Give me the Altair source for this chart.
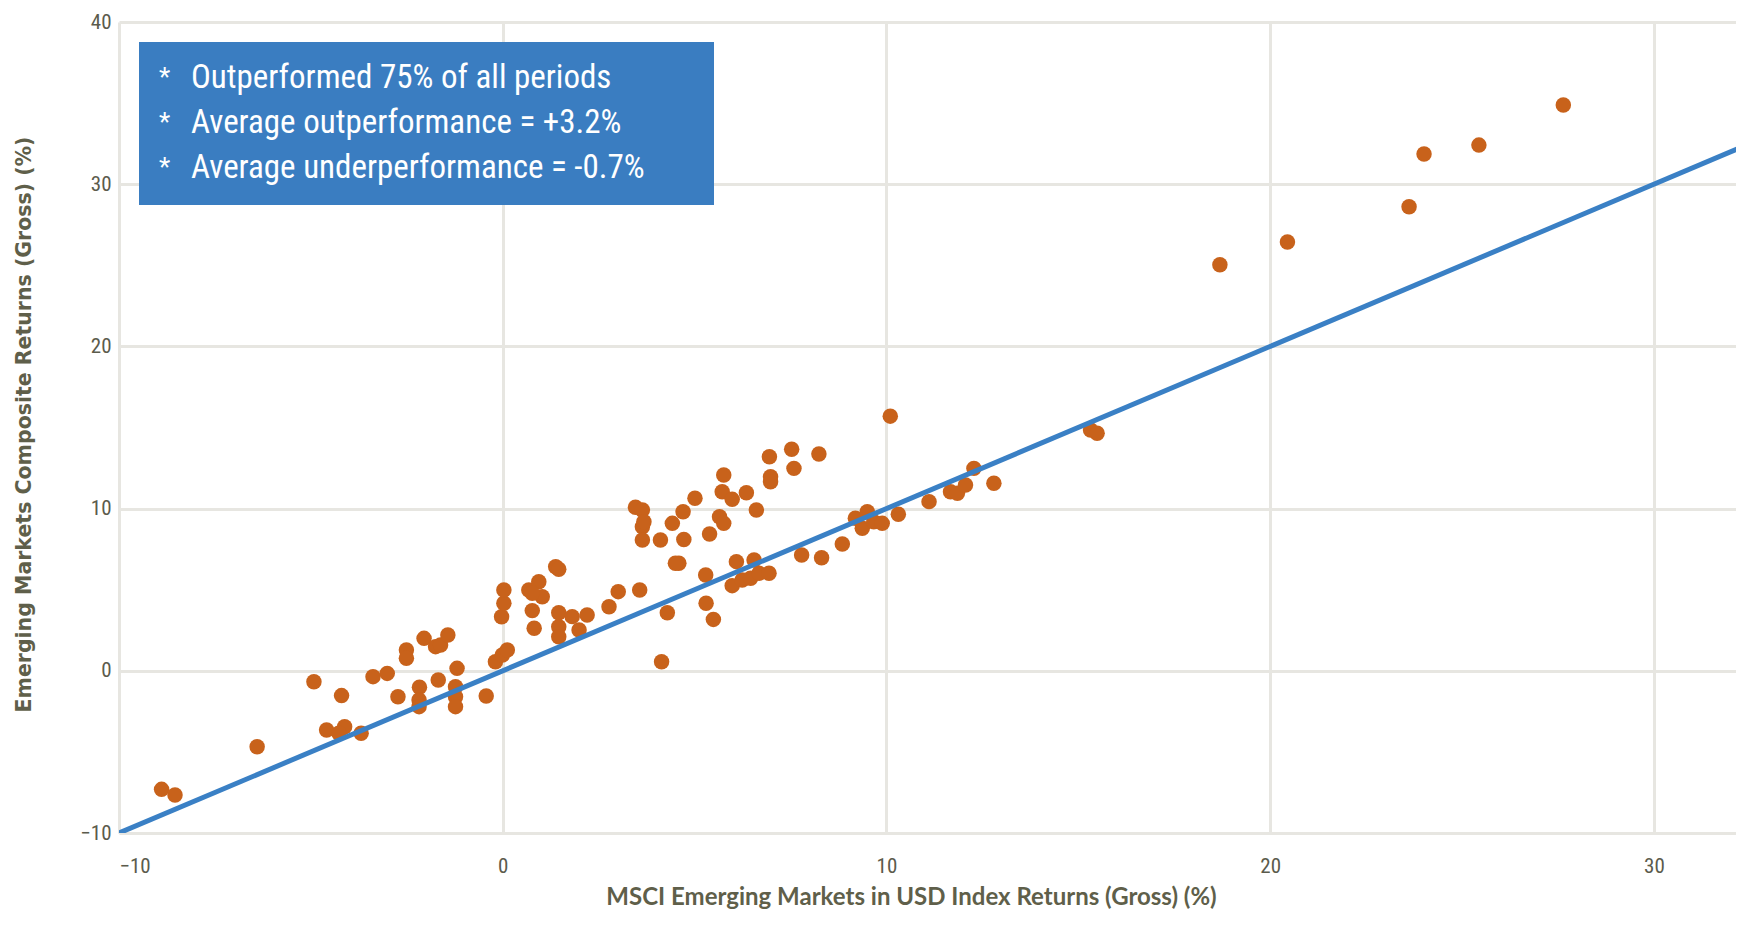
import altair as alt
import pandas as pd

# MSCI EM index return (x) vs composite return (y), in %
emx = [-8.89, -8.54, -6.40, -4.92, -4.20, -4.59, -4.12, -4.27, -3.69, -3.38,
       -3.01, -2.73, -2.51, -2.51, -2.05, -1.75, -1.62, -1.43, -2.17, -2.18,
       -2.18, -1.68, -1.19, -1.23, -1.23, -1.23, -0.43, -0.19, -0.01, 0.12,
       -0.03, 0.03, 0.03,
       0.68, 0.94, 1.03, 0.77, 0.77, 0.82, 1.38, 1.46, 1.46, 1.46,
       1.46, 1.81, 1.99, 2.20, 2.77, 3.01, 3.57, 4.29, 4.14, 5.29,
       5.30, 5.49, 4.59, 4.50, 3.46, 3.64, 3.64, 3.68, 3.64, 4.11,
       4.42, 4.72, 4.70, 5.01, 5.39, 5.65, 5.76, 5.76, 5.72, 5.98,
       6.35, 6.61, 6.95, 6.98, 6.98, 7.53, 7.59, 8.24, 6.09, 6.55,
       5.98, 6.24, 6.46, 6.68, 6.94, 7.79, 8.31, 8.85,
       9.19, 9.50, 9.37, 9.67, 9.89, 10.31, 11.11, 11.67, 11.85, 12.06,
       12.28, 12.80, 10.10, 15.32, 15.49, 18.69, 20.45, 23.62, 24.01, 25.44,
       27.64]
emy = [-7.31, -7.66, -4.68, -0.67, -1.53, -3.65, -3.45, -3.85, -3.85, -0.36,
       -0.16, -1.60, 1.28, 0.77, 2.00, 1.49, 1.59, 2.21, -1.02, -1.80,
       -2.21, -0.57, 0.15, -0.98, -1.60, -2.21, -1.55, 0.56, 0.97, 1.28,
       3.33, 4.16, 4.98,
       4.98, 5.49, 4.57, 4.78, 3.71, 2.62, 6.42, 6.26, 3.58, 2.72,
       2.10, 3.34, 2.52, 3.44, 3.95, 4.88, 4.98, 3.58, 0.56, 5.91,
       4.16, 3.17, 6.63, 6.63, 10.08, 9.91, 8.88, 9.19, 8.06, 8.06,
       9.09, 8.10, 9.81, 10.64, 8.43, 9.50, 9.09, 12.07, 11.04, 10.57,
       10.98, 9.91, 13.20, 11.97, 11.66, 13.66, 12.48, 13.37, 6.73, 6.83,
       5.25, 5.60, 5.70, 6.01, 6.01, 7.14, 6.97, 7.82,
       9.40, 9.81, 8.79, 9.19, 9.09, 9.65, 10.43, 11.04, 10.94, 11.46,
       12.48, 11.56, 15.70, 14.85, 14.64, 25.04, 26.44, 28.61, 31.86, 32.41,
       34.88]

# equal-return reference line
line_x = [-10, 33]
line_y = [-10, 33]

notes = ["Outperformed 75% of all periods",
         "Average outperformance = +3.2%",
         "Average underperformance = -0.7%"]

x_ticks = [-10, 0, 10, 20, 30]
y_ticks = [-10, 0, 10, 20, 30, 40]

pts = pd.DataFrame({"x": emx, "y": emy})
ln = pd.DataFrame({"x": line_x, "y": line_y})

TICK_FONT = "Roboto Condensed"
LABEL_COLOR = "#5b5b4c"
TITLE_COLOR = "#5f5f4a"

xscale = alt.Scale(domain=[-10, 32.14], nice=False, zero=False)
yscale = alt.Scale(domain=[-10, 40], nice=False, zero=False)

xaxis = alt.Axis(values=x_ticks, title="MSCI Emerging Markets in USD Index Returns (Gross) (%)",
                 grid=True, gridColor="#e7e6e1", gridWidth=3, domain=False, ticks=False,
                 labelFont=TICK_FONT, labelFontSize=21, labelColor=LABEL_COLOR,
                 labelPadding=22, titleFont="Lato", titleFontWeight="bold",
                 titleFontSize=24, titleColor=TITLE_COLOR, titleX=792, titleY=71,
                 titleBaseline="alphabetic", titleAlign="center")
yaxis = alt.Axis(values=y_ticks, title="Emerging Markets Composite Returns (Gross) (%)",
                 grid=True, gridColor="#e7e6e1", gridWidth=3, domain=False, ticks=False,
                 labelFont=TICK_FONT, labelFontSize=21, labelColor=LABEL_COLOR,
                 labelPadding=8, titleFont="DejaVu Sans", titleFontWeight="bold",
                 titleFontSize=20.5, titleColor=TITLE_COLOR, titleX=-95, titleY=402,
                 titleAngle=-90, titleBaseline="middle", titleAlign="center")

dots = alt.Chart(pts).mark_circle(size=240, color="#c8621b", opacity=1).encode(
    x=alt.X("x:Q", scale=xscale, axis=xaxis),
    y=alt.Y("y:Q", scale=yscale, axis=yaxis),
)

line = alt.Chart(ln).mark_line(color="#3a80c5", strokeWidth=5, clip=True).encode(
    x=alt.X("x:Q", scale=xscale),
    y=alt.Y("y:Q", scale=yscale, axis=None),
)

box = alt.Chart(pd.DataFrame({"a": [0]})).mark_rect(color="#3a7dc1").encode(
    x=alt.value(20), x2=alt.value(595), y=alt.value(20), y2=alt.value(183)
)

notes_df = pd.DataFrame({"t": notes, "i": list(range(len(notes)))})
row_scale = alt.Scale(domain=[0, 2], range=[56, 146])
star = alt.Chart(notes_df).mark_text(text="*", color="white", font=TICK_FONT, fontSize=26,
                                     align="left", baseline="middle").encode(
    x=alt.value(40), y=alt.Y("i:Q", scale=row_scale, axis=None)
)
note_txt = alt.Chart(notes_df).mark_text(color="white", font=TICK_FONT, fontSize=33,
                                         align="left", baseline="middle").encode(
    x=alt.value(72), y=alt.Y("i:Q", scale=row_scale, axis=None),
    text="t:N"
)

chart = alt.layer(dots, line, box, star, note_txt).resolve_scale(y="independent").properties(
    width=1617, height=811,
    padding={"left": 111, "top": 14, "right": 0, "bottom": 78},
    autosize=alt.AutoSizeParams(type="none"),
).configure_view(stroke=None)

chart.save("out.html", embed_options={"renderer": "svg", "actions": False})
